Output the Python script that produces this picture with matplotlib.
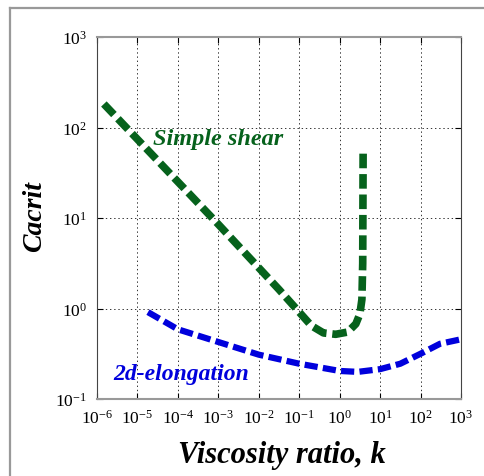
import numpy as np
import matplotlib
matplotlib.use('Agg')
import matplotlib.pyplot as plt
from matplotlib.lines import Line2D

plt.rcParams['font.family'] = ['Liberation Serif', 'DejaVu Serif']
plt.rcParams['mathtext.fontset'] = 'custom'
plt.rcParams['mathtext.rm'] = 'Liberation Serif'
plt.rcParams['lines.scale_dashes'] = False

GREEN = '#06621c'
BLUE = '#0000dc'

# critical capillary number vs viscosity ratio (log10 values)
shear_logk = [-5.83, -5.0, -4.0, -3.0, -2.0, -1.5, -1.0, -0.7, -0.4, -0.1, 0.2, 0.4, 0.5, 0.55, 0.57, 0.58]
shear_logca = [2.26, 1.87, 1.40, 0.93, 0.45, 0.21, -0.04, -0.19, -0.27, -0.285, -0.26, -0.17, -0.06, 0.1, 0.5, 1.73]

elong_logk = [-4.74, -4.0, -3.0, -2.0, -1.0, 0.0, 0.45, 1.0, 1.5, 2.0, 2.48, 3.0]
elong_logca = [-0.04, -0.23, -0.37, -0.51, -0.61, -0.69, -0.70, -0.67, -0.61, -0.50, -0.39, -0.34]

xticks = [1e-6, 1e-5, 1e-4, 1e-3, 1e-2, 1e-1, 1e0, 1e1, 1e2, 1e3]
yticks = [1e-1, 1e0, 1e1, 1e2, 1e3]


def main():
    fig = plt.figure(figsize=(4.85, 4.77), dpi=100)
    ax = fig.add_axes([0.2, 0.1614, 0.7505, 0.7589])

    ax.plot(10 ** np.array(shear_logk), 10 ** np.array(shear_logca), color=GREEN,
            lw=5.5, dashes=(10.5, 4.2), dash_capstyle='butt', solid_joinstyle='round')
    ax.plot(10 ** np.array(elong_logk), 10 ** np.array(elong_logca), color=BLUE,
            lw=4.5, dashes=(9.5, 3.8), dash_capstyle='butt')

    ax.set_xscale('log')
    ax.set_yscale('log')
    ax.set_xlim(1e-6, 1e3)
    ax.set_ylim(1e-1, 1e3)
    ax.set_xticks(xticks)
    ax.set_yticks(yticks)
    ax.minorticks_off()
    ax.tick_params(which='both', direction='in', top=True, right=True, length=4,
                   width=0.8, labelsize=12.5, pad=7)
    ax.grid(True, color='#333333', lw=0.7, linestyle=(0, (1, 2)))

    for side in ['left', 'right']:
        ax.spines[side].set_color('#444444')
    for side in ['top', 'bottom']:
        ax.spines[side].set_color('#999999')
        ax.spines[side].set_linewidth(1.5)

    ax.text(2.4e-5, 66, 'Simple shear', color=GREEN, fontsize=17.5,
            fontweight='bold', style='italic', ha='left', va='baseline')
    ax.text(2.5e-6, 0.166, '2d-elongation', color=BLUE, fontsize=17,
            fontweight='bold', style='italic', ha='left', va='baseline')

    fig.text(282 / 485, 14 / 477, 'Viscosity ratio, k', fontsize=22,
             fontweight='bold', style='italic', ha='center', va='baseline')
    fig.text(35 / 485, 1 - 216 / 477, 'Cacrit', fontsize=20, fontweight='bold',
             style='italic', rotation=90, ha='center', va='center')

    # outer frame lines along the left and top edges
    fig.add_artist(Line2D([10 / 485, 10 / 485], [0, 1 - 9 / 477], color='#999999', lw=1.6))
    fig.add_artist(Line2D([10 / 485, 1], [1 - 9 / 477, 1 - 9 / 477], color='#999999', lw=1.6))

    fig.savefig('out.png', dpi=100)


if __name__ == '__main__':
    main()
